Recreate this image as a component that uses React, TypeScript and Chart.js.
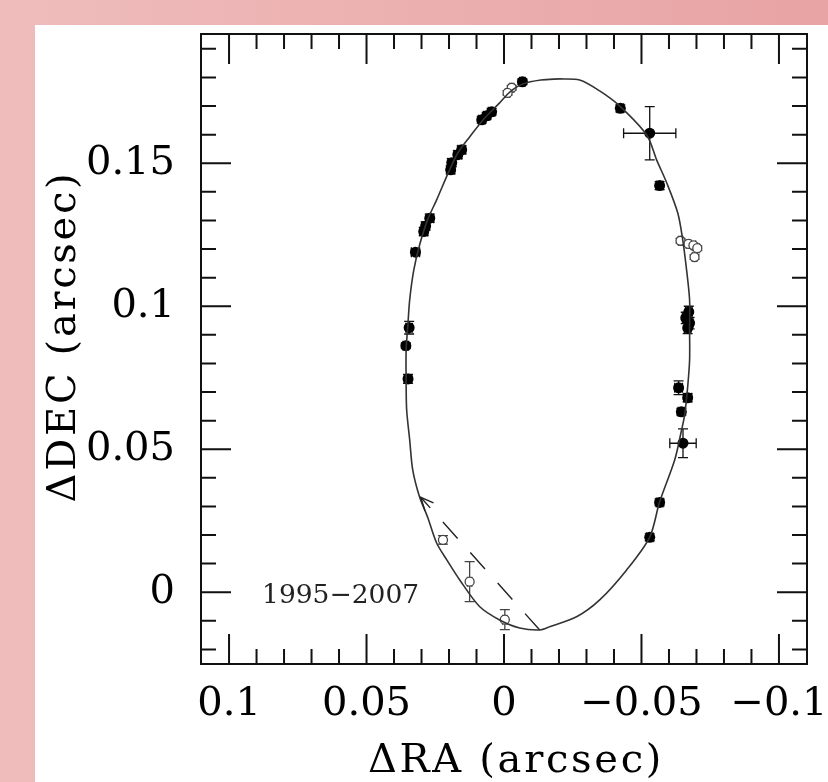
import { useEffect, useRef } from 'react';
import { Chart, registerables } from 'chart.js';

Chart.register(...registerables);

// Relative orbit (model curve), ΔRA / ΔDEC in arcsec
const orbitRA = [
  -0.0203, -0.0134, -0.0068, -0.0021, 0.0016, 0.0070, 0.0125, 0.0168, 0.0198, 0.0245,
  0.0278, 0.0307, 0.0328, 0.0343, 0.0350, 0.0356, 0.0356, 0.0354, 0.0343, 0.0332,
  0.0307, 0.0278, 0.0245, 0.0208, 0.0161, 0.0088, 0.0016, -0.0057, -0.0130, -0.0166,
  -0.0264, -0.0348, -0.0446, -0.0530, -0.0566, -0.0621, -0.0646, -0.0657, -0.0668, -0.0675,
  -0.0675, -0.0675, -0.0664, -0.0650, -0.0632, -0.0592, -0.0555, -0.0519, -0.0421, -0.0348,
  -0.0275, -0.0203,
];
const orbitDEC = [
  0.1795, 0.1791, 0.1777, 0.1749, 0.1711, 0.1658, 0.1592, 0.1536, 0.1477, 0.1372,
  0.1302, 0.1214, 0.1127, 0.1022, 0.0928, 0.0847, 0.0742, 0.0637, 0.0533, 0.0428,
  0.0333, 0.0263, 0.0172, 0.0113, 0.0043, -0.0051, -0.0097, -0.0125, -0.0132, -0.0121,
  -0.0086, -0.0027, 0.0078, 0.0193, 0.0316, 0.0463, 0.0568, 0.0620, 0.0718, 0.0812,
  0.0917, 0.1022, 0.1127, 0.1232, 0.1326, 0.1431, 0.1512, 0.1599, 0.1700, 0.1753,
  0.1791, 0.1795,
];

// Measured positions (filled symbols) with 1-sigma errors
const filledRA = [
  -0.0067, 0.0045, 0.0063, 0.0081, 0.0154, 0.0168, 0.0190, 0.0194, 0.0270, 0.0285,
  0.0292, 0.0322, 0.0345, 0.0357, 0.0349, -0.0423, -0.0530, -0.0566, -0.0672, -0.0661,
  -0.0675, -0.0668, -0.0635, -0.0668, -0.0645, -0.0651, -0.0566, -0.0530,
];
const filledDEC = [
  0.1785, 0.1680, 0.1666, 0.1652, 0.1547, 0.1530, 0.1502, 0.1477, 0.1308, 0.1281,
  0.1261, 0.1189, 0.0925, 0.0862, 0.0746, 0.1692, 0.1605, 0.1422, 0.0980, 0.0959,
  0.0941, 0.0924, 0.0715, 0.0680, 0.0631, 0.0521, 0.0314, 0.0192,
];
const filledErrRA = [
  0.0010, 0.0012, 0.0012, 0.0012, 0.0014, 0.0014, 0.0014, 0.0014, 0.0014, 0.0014,
  0.0014, 0.0015, 0.0012, 0.0010, 0.0014, 0.0012, 0.0095, 0.0012, 0.0012, 0.0012,
  0.0012, 0.0012, 0.0014, 0.0014, 0.0012, 0.0048, 0.0012, 0.0012,
];
const filledErrDEC = [
  0.0010, 0.0012, 0.0012, 0.0012, 0.0014, 0.0014, 0.0014, 0.0014, 0.0014, 0.0014,
  0.0014, 0.0010, 0.0022, 0.0010, 0.0016, 0.0012, 0.0093, 0.0014, 0.0020, 0.0020,
  0.0020, 0.0020, 0.0024, 0.0014, 0.0012, 0.0050, 0.0012, 0.0012,
];

// Measured positions (open symbols) with 1-sigma errors
const openRA = [-0.0028, -0.0013, -0.0642, -0.0671, -0.0689, -0.0703, -0.0693, 0.0222, 0.0125, -0.0003];
const openDEC = [0.1764, 0.1746, 0.1229, 0.1218, 0.1213, 0.1203, 0.1172, 0.0183, 0.0037, -0.0096];
const openErrRA = [0.0008, 0.0008, 0.0008, 0.0008, 0.0008, 0.0008, 0.0008, 0.0010, 0.0008, 0.0008];
const openErrDEC = [0.0008, 0.0008, 0.0008, 0.0008, 0.0008, 0.0008, 0.0008, 0.0015, 0.0070, 0.0035];

// Line of nodes, drawn from the periastron side towards the arrow tip
const nodeRA = [-0.0130, 0.0303];
const nodeDEC = [-0.0132, 0.0332];

// Axes
const xMin = -0.1102;
const xMax = 0.1102;
const yMin = -0.0251;
const yMax = 0.1952;
const minorStep = 0.01;
const xTickValues = [0.1, 0.05, 0, -0.05, -0.1];
const xTickLabels = ['0.1', '0.05', '0', '\u22120.05', '\u22120.1'];
const yTickValues = [0, 0.05, 0.1, 0.15];
const yTickLabels = ['0', '0.05', '0.1', '0.15'];
const xTitle = '\u0394RA (arcsec)';
const yTitle = '\u0394DEC (arcsec)';
const periodLabel = '1995\u22122007';
const periodPos = { x: 0.088, y: -0.0038 };

const SERIF = '"DejaVu Serif", "Liberation Serif", serif';

const findLabel = (values: number[], labels: string[], v: number) => {
  const i = values.findIndex((t) => Math.abs(t - v) < 1e-6);
  return i >= 0 ? labels[i] : '';
};

const isMajor = (values: number[], v: number) => values.some((t) => Math.abs(t - v) < 1e-6);

const errorBarsPlugin = {
  id: 'errorBars',
  beforeDatasetsDraw(chart: any) {
    const { ctx } = chart;
    const xs = chart.scales.x;
    const ys = chart.scales.y;
    const cap = 5;
    ctx.save();
    ctx.beginPath();
    ctx.rect(chart.chartArea.left, chart.chartArea.top, chart.chartArea.width, chart.chartArea.height);
    ctx.clip();
    chart.data.datasets.forEach((ds: any) => {
      if (!ds.errX) return;
      ctx.strokeStyle = ds.barColor;
      ctx.lineWidth = 1.3;
      ds.data.forEach((p: any, i: number) => {
        const cx = xs.getPixelForValue(p.x);
        const cy = ys.getPixelForValue(p.y);
        const x1 = xs.getPixelForValue(p.x - ds.errX[i]);
        const x2 = xs.getPixelForValue(p.x + ds.errX[i]);
        const y1 = ys.getPixelForValue(p.y - ds.errY[i]);
        const y2 = ys.getPixelForValue(p.y + ds.errY[i]);
        ctx.beginPath();
        ctx.moveTo(x1, cy);
        ctx.lineTo(x2, cy);
        ctx.moveTo(x1, cy - cap);
        ctx.lineTo(x1, cy + cap);
        ctx.moveTo(x2, cy - cap);
        ctx.lineTo(x2, cy + cap);
        ctx.moveTo(cx, y1);
        ctx.lineTo(cx, y2);
        ctx.moveTo(cx - cap, y1);
        ctx.lineTo(cx + cap, y1);
        ctx.moveTo(cx - cap, y2);
        ctx.lineTo(cx + cap, y2);
        ctx.stroke();
      });
    });
    ctx.restore();
  },
};

const arrowPlugin = {
  id: 'nodeArrow',
  afterDatasetsDraw(chart: any) {
    const idx = chart.data.datasets.findIndex((d: any) => d.arrow);
    if (idx < 0) return;
    const pts = chart.getDatasetMeta(idx).data;
    const end = pts[0];
    const tip = pts[pts.length - 1];
    const ang = Math.atan2(tip.y - end.y, tip.x - end.x);
    const len = 14;
    const { ctx } = chart;
    ctx.save();
    ctx.strokeStyle = '#222';
    ctx.lineWidth = 1.4;
    ctx.beginPath();
    ctx.moveTo(tip.x + len * Math.cos(ang + Math.PI - 0.42), tip.y + len * Math.sin(ang + Math.PI - 0.42));
    ctx.lineTo(tip.x, tip.y);
    ctx.lineTo(tip.x + len * Math.cos(ang + Math.PI + 0.42), tip.y + len * Math.sin(ang + Math.PI + 0.42));
    ctx.stroke();
    ctx.restore();
  },
};

const framePlugin = {
  id: 'frame',
  afterDraw(chart: any) {
    const { ctx, chartArea } = chart;
    const { left, right, top, bottom } = chartArea;
    const xs = chart.scales.x;
    const ys = chart.scales.y;
    ctx.save();
    ctx.strokeStyle = '#111';
    ctx.lineWidth = 2;
    ctx.strokeRect(left, top, right - left, bottom - top);
    ctx.beginPath();
    xs.ticks.forEach((t: any) => {
      if (Math.abs(t.value) > 0.105) return;
      const p = xs.getPixelForValue(t.value);
      const len = isMajor(xTickValues, t.value) ? 30 : 15;
      ctx.moveTo(p, bottom);
      ctx.lineTo(p, bottom - len);
      ctx.moveTo(p, top);
      ctx.lineTo(p, top + len);
    });
    ys.ticks.forEach((t: any) => {
      const p = ys.getPixelForValue(t.value);
      if (p < top + 3 || p > bottom - 3) return;
      const len = isMajor(yTickValues, t.value) ? 30 : 15;
      ctx.moveTo(left, p);
      ctx.lineTo(left + len, p);
      ctx.moveTo(right, p);
      ctx.lineTo(right - len, p);
    });
    ctx.stroke();

    // axis titles
    ctx.fillStyle = '#000';
    ctx.font = `40px ${SERIF}`;
    (ctx as any).letterSpacing = '2.7px';
    ctx.textAlign = 'center';
    ctx.textBaseline = 'alphabetic';
    ctx.fillText(xTitle, (left + right) / 2 + 12, bottom + 108);
    ctx.save();
    ctx.translate(left - 126, (top + bottom) / 2);
    ctx.rotate(-Math.PI / 2);
    ctx.fillText(yTitle, 12.5, 0);
    ctx.restore();

    // epoch range annotation
    (ctx as any).letterSpacing = '0px';
    ctx.font = `26.5px ${SERIF}`;
    ctx.fillStyle = '#222';
    ctx.textAlign = 'left';
    ctx.fillText(periodLabel, xs.getPixelForValue(periodPos.x), ys.getPixelForValue(periodPos.y));
    ctx.restore();
  },
};

export default function App() {
  const ref = useRef<HTMLCanvasElement>(null);

  useEffect(() => {
    if (!ref.current) return;
    const orbit = orbitRA.map((x, i) => ({ x, y: orbitDEC[i] }));
    const filled = filledRA.map((x, i) => ({ x, y: filledDEC[i] }));
    const open = openRA.map((x, i) => ({ x, y: openDEC[i] }));
    const nodes = nodeRA.map((x, i) => ({ x, y: nodeDEC[i] }));

    const chart = new Chart(ref.current, {
      type: 'scatter',
      data: {
        datasets: [
          {
            data: orbit,
            showLine: true,
            borderColor: '#333',
            borderWidth: 1.6,
            pointRadius: 0,
            tension: 0.3,
            fill: false,
          } as any,
          {
            data: nodes,
            showLine: true,
            borderColor: '#222',
            borderWidth: 1.4,
            borderDash: [22, 19],
            pointRadius: 0,
            fill: false,
            arrow: true,
          } as any,
          {
            data: open,
            pointRadius: 4.5,
            pointBackgroundColor: '#fff',
            pointBorderColor: '#444',
            pointBorderWidth: 1.3,
            errX: openErrRA,
            errY: openErrDEC,
            barColor: '#444',
          } as any,
          {
            data: filled,
            pointRadius: 5.5,
            pointBackgroundColor: '#000',
            pointBorderColor: '#000',
            pointBorderWidth: 0,
            errX: filledErrRA,
            errY: filledErrDEC,
            barColor: '#111',
          } as any,
        ],
      },
      options: {
        animation: false,
        responsive: false,
        devicePixelRatio: 1,
        layout: { padding: { top: 9, right: 48, bottom: 0, left: 0 } },
        plugins: {
          legend: { display: false },
          tooltip: { enabled: false },
        },
        events: [],
        scales: {
          x: {
            type: 'linear',
            reverse: true,
            min: xMin,
            max: xMax,
            grid: { display: false, drawTicks: false },
            border: { display: false },
            afterFit: (s: any) => {
              s.height = 118;
              s.paddingLeft = 0;
              s.paddingRight = 0;
            },
            ticks: {
              stepSize: minorStep,
              includeBounds: false,
              autoSkip: false,
              maxRotation: 0,
              minRotation: 0,
              padding: 17,
              color: '#000',
              font: { family: SERIF, size: 40 },
              callback: (v: any) => findLabel(xTickValues, xTickLabels, Number(v)),
            },
          },
          y: {
            type: 'linear',
            min: yMin,
            max: yMax,
            grid: { display: false, drawTicks: false },
            border: { display: false },
            afterFit: (s: any) => {
              s.width = 166;
              s.paddingTop = 0;
              s.paddingBottom = 0;
            },
            ticks: {
              stepSize: minorStep,
              includeBounds: false,
              autoSkip: false,
              padding: 26,
              color: '#000',
              font: { family: SERIF, size: 40 },
              callback: (v: any) => findLabel(yTickValues, yTickLabels, Number(v)),
            },
          },
        },
      } as any,
      plugins: [errorBarsPlugin, arrowPlugin, framePlugin],
    });
    return () => chart.destroy();
  }, []);

  return (
    <div
      style={{
        position: 'fixed',
        inset: 0,
        overflow: 'hidden',
        background: 'linear-gradient(to right, #efbcbc, #e8a3a4)',
      }}
    >
      <div style={{ position: 'absolute', left: 35, top: 25, right: 0, bottom: 0, background: '#fff' }}>
        <canvas ref={ref} width={820} height={757} style={{ display: 'block', width: 820, height: 757 }} />
      </div>
    </div>
  );
}
